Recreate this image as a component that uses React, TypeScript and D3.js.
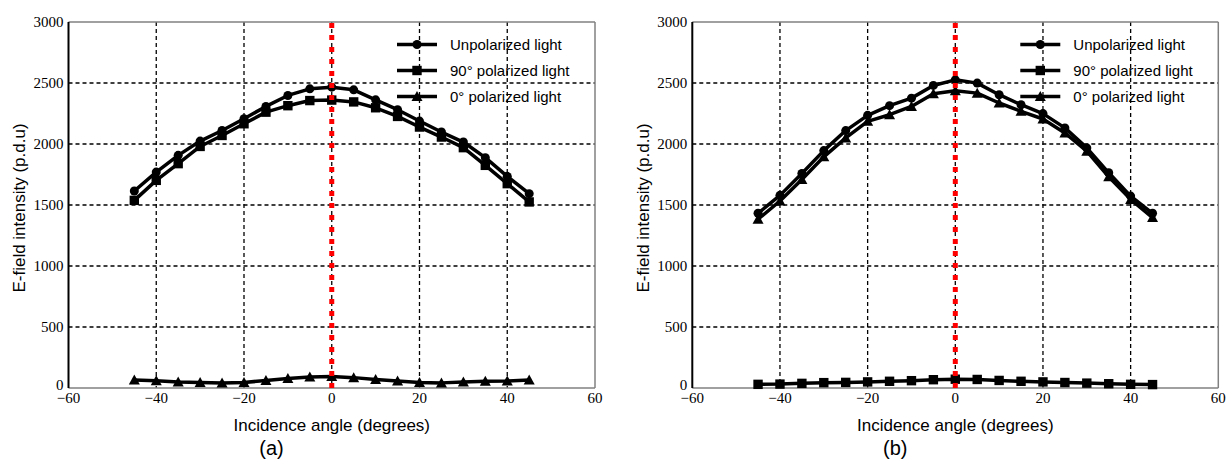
import React from "react";
import * as d3 from "d3";

const angles = [-45, -40, -35, -30, -25, -20, -15, -10, -5, 0, 5, 10, 15, 20, 25, 30, 35, 40, 45];

// Panel (a)
const unpolA = [1615, 1770, 1907, 2024, 2111, 2207, 2308, 2398, 2452, 2466, 2444, 2362, 2281, 2188, 2098, 2016, 1888, 1735, 1593];
const pol90A = [1538, 1702, 1839, 1980, 2070, 2166, 2261, 2314, 2356, 2360, 2345, 2297, 2226, 2139, 2057, 1970, 1825, 1675, 1525];
const pol0A = [65, 60, 50, 45, 42, 45, 62, 78, 90, 95, 85, 70, 58, 45, 42, 50, 55, 58, 65];

// Panel (b)
const unpolB = [1432, 1579, 1759, 1946, 2110, 2235, 2314, 2376, 2480, 2526, 2499, 2404, 2322, 2249, 2132, 1968, 1764, 1573, 1432];
const pol90B = [30, 32, 38, 44, 46, 50, 55, 60, 68, 72, 70, 62, 55, 50, 45, 40, 35, 30, 28];
const pol0B = [1383, 1533, 1710, 1895, 2050, 2186, 2240, 2308, 2412, 2436, 2417, 2336, 2268, 2205, 2091, 1941, 1731, 1546, 1397];

const xTicks = [-60, -40, -20, 0, 20, 40, 60];
const yTicks = [0, 500, 1000, 1500, 2000, 2500, 3000];
const legendLabels = ["Unpolarized light", "90° polarized light", "0° polarized light"];
const panelLabels = ["(a)", "(b)"];
const xTitle = "Incidence angle (degrees)";
const yTitle = "E-field intensity (p.d.u)";

type MarkerKind = "circle" | "square" | "triangle";

function Marker({ kind, x, y }: { kind: MarkerKind; x: number; y: number }) {
  if (kind === "circle") return <circle cx={x} cy={y} r={4.5} fill="#000" />;
  if (kind === "square") return <rect x={x - 4.7} y={y - 4.7} width={9.4} height={9.4} fill="#000" />;
  return <path d={`M${x},${y - 5.5}L${x + 5.5},${y + 4.5}L${x - 5.5},${y + 4.5}Z`} fill="#000" />;
}

function Panel({
  left,
  right,
  series,
  label,
}: {
  left: number;
  right: number;
  series: { values: number[]; kind: MarkerKind }[];
  label: string;
}) {
  const top = 22;
  const bottom = 388;
  const x = d3.scaleLinear().domain([-60, 60]).range([left, right]);
  const y = d3.scaleLinear().domain([0, 3000]).range([bottom, top]);
  const line = d3
    .line<number>()
    .x((_, i) => x(angles[i]))
    .y((v) => y(v));
  const tickFont = "'Liberation Serif', 'DejaVu Serif', serif";
  const sansFont = "'Liberation Sans', Arial, sans-serif";
  const legX = right - 198;
  const legRows = [44.5, 70.5, 96.5];
  const legKinds: MarkerKind[] = ["circle", "square", "triangle"];
  return (
    <g>
      {/* grid */}
      {xTicks
        .filter((t) => t > -60 && t < 60)
        .map((t) => (
          <line key={"gx" + t} x1={x(t)} x2={x(t)} y1={top} y2={bottom} stroke="#000" strokeWidth={1.3} strokeDasharray="4,3" />
        ))}
      {yTicks
        .filter((t) => t > 0 && t < 3000)
        .map((t) => (
          <line key={"gy" + t} x1={left} x2={right} y1={y(t)} y2={y(t)} stroke="#000" strokeWidth={1.3} strokeDasharray="4,3" />
        ))}
      {/* spines */}
      <line x1={left} x2={right} y1={top} y2={top} stroke="#808080" strokeWidth={1.5} />
      <line x1={right} x2={right} y1={top} y2={bottom} stroke="#808080" strokeWidth={1.5} />
      <line x1={left} x2={right} y1={bottom} y2={bottom} stroke="#808080" strokeWidth={1.5} />
      <line x1={left} x2={left} y1={top} y2={bottom} stroke="#000" strokeWidth={2} />
      {/* series */}
      {series.map((s, si) => (
        <g key={"s" + si}>
          <path d={line(s.values) || ""} fill="none" stroke="#000" strokeWidth={3.5} strokeLinejoin="round" />
          {s.values.map((v, i) => (
            <Marker key={i} kind={s.kind} x={x(angles[i])} y={y(v)} />
          ))}
        </g>
      ))}
      {/* red dotted line */}
      <line x1={x(0)} x2={x(0)} y1={bottom} y2={top} stroke="#ff0000" strokeWidth={5} strokeDasharray="5,7" />
      {/* tick labels */}
      {yTicks.map((t) => (
        <text
          key={"ty" + t}
          x={left - 5}
          y={t === 0 ? y(t) - 3 : y(t)}
          dy="0.35em"
          textAnchor="end"
          fontFamily={tickFont}
          fontSize={15}
          fill="#000"
        >
          {t}
        </text>
      ))}
      {xTicks.map((t) => (
        <text key={"tx" + t} x={x(t)} y={403} textAnchor="middle" fontFamily={tickFont} fontSize={15} fill="#000">
          {t < 0 ? "\u2212" + Math.abs(t) : String(t)}
        </text>
      ))}
      {/* axis titles */}
      <text x={(left + right) / 2} y={431} textAnchor="middle" fontFamily={sansFont} fontSize={17} fill="#000">
        {xTitle}
      </text>
      <text
        transform={`translate(${left - 49},208) rotate(-90)`}
        textAnchor="middle"
        dy="0.35em"
        fontFamily={sansFont}
        fontSize={17}
        fill="#000"
      >
        {yTitle}
      </text>
      <text x={left + 203} y={455} textAnchor="middle" fontFamily={sansFont} fontSize={20} fill="#000">
        {label}
      </text>
      {/* legend */}
      {legendLabels.map((lab, i) => (
        <g key={"lg" + i}>
          <line x1={legX} x2={legX + 40} y1={legRows[i]} y2={legRows[i]} stroke="#000" strokeWidth={3.5} />
          <Marker kind={legKinds[i]} x={legX + 20} y={legRows[i]} />
          <text x={legX + 53} y={legRows[i]} dy="0.35em" fontFamily={sansFont} fontSize={15} fill="#000">
            {lab}
          </text>
        </g>
      ))}
    </g>
  );
}

export default function App() {
  return (
    <svg
      width={1227}
      height={461}
      style={{ position: "absolute", left: 0, top: 0, background: "#fff" }}
    >
      <rect x={0} y={0} width={1227} height={461} fill="#fff" />
      <Panel
        left={68.5}
        right={595}
        label={panelLabels[0]}
        series={[
          { values: pol0A, kind: "triangle" },
          { values: pol90A, kind: "square" },
          { values: unpolA, kind: "circle" },
        ]}
      />
      <Panel
        left={692.3}
        right={1218.3}
        label={panelLabels[1]}
        series={[
          { values: pol90B, kind: "square" },
          { values: pol0B, kind: "triangle" },
          { values: unpolB, kind: "circle" },
        ]}
      />
    </svg>
  );
}
